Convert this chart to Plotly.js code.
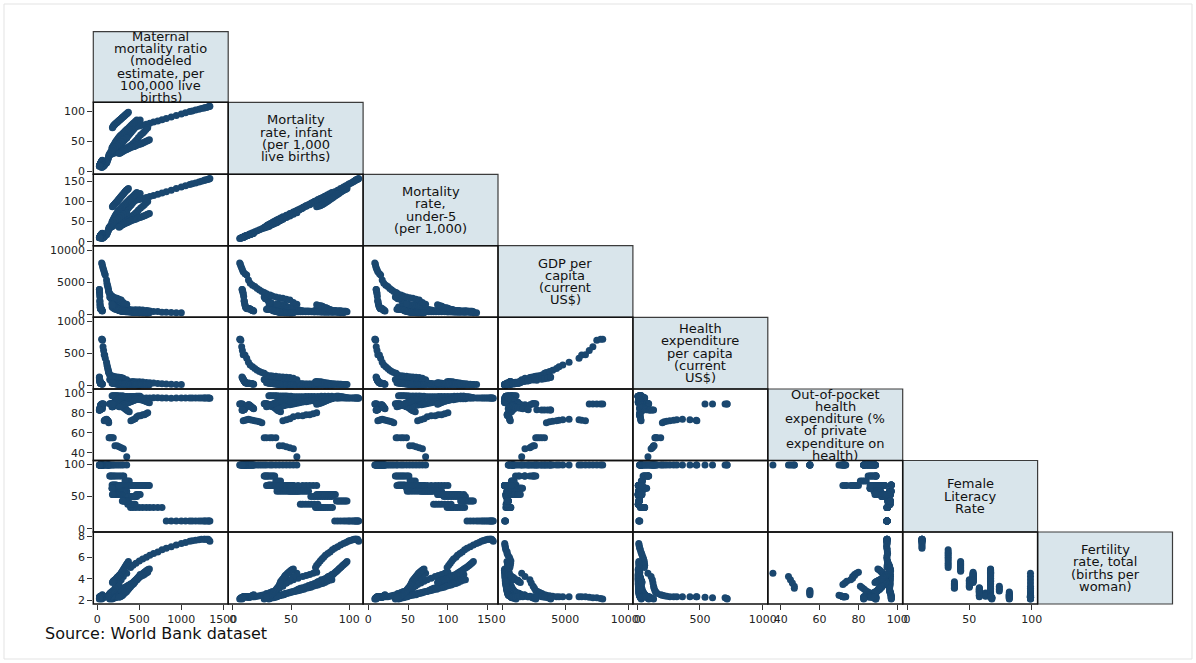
<!DOCTYPE html>
<html>
<head>
<meta charset="utf-8">
<script src="https://cdn.plot.ly/plotly-3.0.1.min.js"></script>
<style>
html,body{margin:0;padding:0;background:#fff;}
#chart{width:1196px;height:663px;}
</style>
</head>
<body>
<div id="chart"></div>
<script>
// ---------------- DATA (8 countries x 26 years, 1990-2015) ----------------
const countries = ["AFG","BGD","BTN","IND","MDV","NPL","PAK","LKA"];
const years = [1990,1991,1992,1993,1994,1995,1996,1997,1998,1999,2000,2001,2002,2003,2004,2005,2006,2007,2008,2009,2010,2011,2012,2013,2014,2015];

const maternal = [
 1340,1330,1320,1300,1280,1270,1240,1210,1170,1130,1100,1050,1000,940,880,821,770,720,670,625,584,540,500,460,425,396,
 510,495,480,465,450,435,420,405,390,375,362,350,338,326,314,302,290,277,264,251,238,226,214,200,188,176,
 600,580,560,540,515,490,470,450,425,400,380,360,345,330,315,300,280,260,240,220,205,190,178,165,155,148,
 470,455,440,425,410,395,380,365,350,335,320,305,290,275,262,250,240,230,220,212,205,198,190,184,178,174,
 350,310,285,260,235,210,190,175,160,148,140,136,133,130,125,120,115,110,95,88,82,75,68,62,57,52,
 620,605,590,575,560,545,530,515,500,485,470,455,440,425,410,395,380,365,350,335,320,307,295,283,271,260,
 370,362,354,346,338,330,322,314,306,298,290,282,274,266,258,250,242,234,226,218,210,203,196,190,185,180,
 60,58,56,54,52,50,48,46,44,42,40,38,37,36,35,34,33,32,31,30,29,28,27,26,25,25
];
const infant = [
 108,107.5,107,106,105.5,105,104,103,101.5,100,99,97,95,92.5,90,87.5,85.5,83.5,81.5,79.5,78,76.5,75,73.5,72,71,
 85,82,79,76,73,70,67.5,65,62.5,60,58,56,54,52,50,48,46,44,42,40,38,36.5,35,33.5,32,31,
 72,69,66,63,60,56,52,49,46,43,41,39,38,37,36,35,34,33,32,31,30,29.5,29,28,27.5,27,
 85,83,81,79,77,75,73,71,69,67,65,63,61,59,57,55,53,51,49,47,45,43.5,42,40.5,39,38,
 55,52,49,46,43,40,37,34,32,29,27,25,23,21,19,17,15,13.5,12,10.5,9,8.3,7.7,7,6.5,6,
 52,51,50,49,48,47,46,45,44.5,44,43,42,41,40.5,40,39,38,37,36,35,34,33,32,31,30,29,
 98,97,96,95,94,93,92,91,90,89,88,87,86,85,84,83,82,81,80,79,78,77,76,75,73.5,72,
 18,17.5,17,16.5,16,15.5,15,14.5,14,13.5,13,12.5,12,11.5,11,10.8,10.5,10.2,10,9.7,9.4,9.1,8.8,8.5,8.2,8
];
const under5 = [
 157,156,155,154,153,152,150,148,146,144,142,139,136,132,128,124,121,118,115,112,110,107,105,103,101,99,
 120,116,112,108,104,100,96,92,88.5,85,82,79,76,73,70,67,64,60,56,52,49,46,44,42,40,38,
 100,96,92,88,84,79,74,70,66,62,59,56,54,52.5,51,49.5,48,46,44.5,43,41.5,40,38.5,37,35.5,34,
 122,119,116,113,110,107,104,101,98,95,92,89,86,82,79,76,73,70,67,64,61,58,55,52,50,48,
 72,68,64,60,56,52,48,44,41,37,35,32,29.5,27,24.5,22,19.5,17.5,15.5,14,12,11,10,9.3,8.8,8.2,
 70,69,67.5,66,64.5,63,62,61,60,59,57.5,56,55,54,53,51.5,50,48.5,47,46,44.5,43,41.5,40,38,36,
 132,130.5,129,127.5,126,124,122,120,118,116,114,112,110,108,106,104,102,100,98,96,94,92.5,91,89.5,88,87,
 21,20.5,20,19.5,19,18.5,18,17.5,17,16.5,16,15.5,15,14.5,14,13.5,13,12.6,12.2,11.8,11.4,11,10.7,10.4,10.1,9.8
];
const gdp = [
 null,null,null,null,null,null,null,null,null,null,null,null,190,210,230,260,280,380,380,450,560,610,680,660,630,600,
 300,290,290,290,300,330,340,350,360,360,370,360,360,390,410,420,430,470,540,600,680,740,760,860,970,1090,
 520,420,390,380,420,500,530,580,590,640,720,760,850,940,1050,1260,1360,1750,1800,1800,2200,2500,2450,2380,2560,2660,
 370,310,320,300,350,380,400,420,415,440,450,460,480,550,630,720,800,1030,1000,1100,1350,1460,1450,1450,1570,1600,
 1540,1800,2190,2300,2450,2550,2650,2800,2970,3150,3350,3500,3750,4000,4300,4500,4800,5300,6090,6300,6600,6900,7190,7500,7800,7970,
 200,190,170,180,190,200,210,220,210,220,230,240,240,250,280,310,340,380,450,460,590,700,700,700,710,740,
 370,410,430,440,430,480,490,470,460,450,530,510,490,560,650,710,800,880,990,960,1020,1230,1260,1270,1320,1430,
 470,510,540,580,650,720,770,830,850,830,870,830,860,960,1060,1240,1420,1630,2000,2060,2740,3130,3350,3610,3820,3840
];
const healthExp = [
 null,null,null,null,null,null,null,null,null,null,null,null,12,14,17,20,24,29,34,39,45,50,55,57,59,57,
 6,6,6,7,7,8,8,9,9,10,10,10,11,11,12,13,14,15,17,19,22,24,26,28,31,32,
 20,18,18,17,19,22,24,26,28,30,32,35,38,42,46,52,55,62,65,70,78,85,88,86,88,91,
 14,13,13,14,16,17,18,19,20,21,20,21,22,24,27,30,32,38,40,42,50,56,58,60,69,75,
 85,110,120,125,130,134,140,145,150,160,187,200,215,235,260,290,315,360,420,470,475,540,600,700,716,716,
 8,8,8,9,9,10,10,11,11,12,12,13,13,14,15,17,18,20,24,26,32,35,36,37,38,40,
 12,13,14,14,14,15,16,16,15,15,16,15,15,16,18,20,22,24,26,25,27,30,33,34,36,38,
 18,20,21,23,25,28,29,31,32,31,32,30,31,35,40,45,51,58,65,70,80,95,100,110,120,130
];
const outOfPocket = [
 94.5,94.6,94.7,94.8,94.7,94.6,94.7,94.8,94.7,94.6,94.7,94.8,94.7,94.6,94.5,94.7,94.8,94.9,95,94.8,94.6,94.7,94.9,95,94.8,94.7,
 96.5,96.5,96.4,96.4,96.3,96.3,96.2,96.2,96.1,96,96,96,96,96,96.5,96.5,96.6,96.7,96.8,96.8,96.9,96.9,96.9,96.9,96.9,96.9,
 80,79,78,78,77,77,76,74,73,72,81,82,83,84,85,86,86,87,87,88,88,89,89,89,89,89,
 94,94,94,94,93.5,93,93,92.5,92,92,91.5,91,91,90.5,90,89.5,89,88.5,88,88,87.5,87,86.5,86,86,86,
 36,44,45,46,47,47,55,55,55,55,55,70,71,71.5,72,72.5,73,73.5,73,72.5,72,88.7,88.7,88.7,88.7,88.7,
 90,90.5,91,91.5,92,92.5,93,93,93.5,93.5,93.5,93,92.5,92,91.5,91,90.5,90,89.5,89,88.5,88,87.5,87,86.5,86,
 95,95,95.5,95.5,96,96,96,96.5,96.5,96.5,96,95.5,95,94.5,94,93.5,93,92.5,92,91.5,91,90.5,90,89.5,89,88.5,
 84,84.5,85,85.5,86,86.5,87,87.5,88,88,87.5,87,86.5,86,85.5,85,84.5,84,83.5,83,83,82.7,82.7,82.7,82.7,82.7
];
const literacy = [
 12,12,12,12,12,12,12,12,12,12,12,12,12,12,12,12,33,33,33,33,33,33,33,33,33,33,
 53,53,53,53,38,38,38,38,38,38,38,58,58,58,58,58,58,58,58,58,58,68,68,68,68,68,
 67,67,67,67,67,67,67,67,67,67,74,74,74,74,82,82,82,82,82,82,82,82,82,82,82,82,
 50,50,50,50,50,50,50,50,50,50,58,58,58,58,58,58,58,58,58,63,63,63,63,63,63,63,
 99,99,99,99,99,99,99,99,99,99,99,99,99,99,99,99,99,99,99,99,99,99,99,99,99,99,
 67,67,67,67,67,67,67,67,67,67,67,67,67,67,67,67,67,67,67,67,67,67,67,67,67,67,
 43,43,43,43,43,43,43,43,43,43,53,53,53,53,53,53,53,53,53,53,53,53,53,53,53,53,
 99,99,99,99,99,99,99,99,99,99,99,99,99,99,99,99,99,99,99,99,99,99,99,99,99,99
];
const fertility = [
 7.5,7.6,7.7,7.7,7.7,7.7,7.7,7.65,7.6,7.55,7.5,7.4,7.3,7.15,7.0,6.85,6.7,6.5,6.35,6.2,6.0,5.85,5.65,5.45,5.25,5.05,
 4.4,4.2,4.0,3.9,3.7,3.55,3.45,3.35,3.25,3.15,3.1,3.0,2.9,2.8,2.75,2.65,2.6,2.5,2.45,2.4,2.3,2.25,2.2,2.2,2.15,2.1,
 4.6,4.5,4.4,4.3,4.2,4.05,3.9,3.75,3.6,3.45,3.3,3.15,3.0,2.85,2.75,2.65,2.55,2.5,2.45,2.4,2.35,2.3,2.25,2.2,2.15,2.1,
 3.9,3.85,3.75,3.65,3.55,3.5,3.4,3.35,3.3,3.2,3.15,3.1,3.0,2.95,2.9,2.85,2.8,2.75,2.7,2.65,2.6,2.55,2.5,2.45,2.4,2.35,
 4.5,4.2,3.9,3.6,3.3,3.1,2.9,2.8,2.7,2.6,2.5,2.45,2.4,2.35,2.3,2.3,2.3,2.3,2.3,2.3,2.3,2.25,2.2,2.2,2.15,2.1,
 4.9,4.85,4.8,4.7,4.6,4.5,4.4,4.3,4.2,4.1,4.0,3.85,3.7,3.55,3.4,3.25,3.1,2.95,2.8,2.7,2.6,2.5,2.4,2.35,2.3,2.25,
 5.6,5.5,5.4,5.3,5.2,5.1,5.0,4.9,4.8,4.7,4.6,4.5,4.4,4.35,4.3,4.2,4.15,4.1,4.0,3.95,3.9,3.85,3.8,3.75,3.7,3.65,
 2.5,2.45,2.4,2.4,2.35,2.3,2.3,2.25,2.25,2.25,2.25,2.3,2.3,2.3,2.3,2.3,2.3,2.3,2.3,2.3,2.3,2.3,2.25,2.2,2.15,2.1
];

const varLabels = [
 ["Maternal","mortality ratio","(modeled","estimate, per","100,000 live","births)"],
 ["Mortality","rate, infant","(per 1,000","live births)"],
 ["Mortality","rate,","under-5","(per 1,000)"],
 ["GDP per","capita","(current","US$)"],
 ["Health","expenditure","per capita","(current","US$)"],
 ["Out-of-pocket","health","expenditure (%","of private","expenditure on","health)"],
 ["Female","Literacy","Rate"],
 ["Fertility","rate, total","(births per","woman)"]
];
const tickVals = [
 [0,500,1000,1500],[0,50,100],[0,50,100,150],[0,5000,10000],[0,500,1000],[40,60,80,100],[0,50,100],[2,4,6,8]
];
const tickText = [
 ["0","500","1000","1500"],["0","50","100"],["0","50","100","150"],["0","5000","10000"],["0","500","1000"],["40","60","80","100"],["0","50","100"],["2","4","6","8"]
];
const sourceNote = "Source: World Bank dataset";

// ---------------- LAYOUT ----------------
const W = 1196, H = 663;
const colEdges = [93.3,228.2,363.1,498.0,632.9,767.8,902.7,1037.6,1172.5];
const rowEdges = [31.7,102.3,174.3,245.7,317.3,389.0,460.5,532.0,604.0];
const xRanges = [[-47.6,1558],[-3.86,111.8],[-6.5,162.9],[-341,10365],[-35,1040.7],[33.36,102.78],[-3.45,104.7]];
const yRanges = [null,[-5.5,114.5],[-9.9,167.4],[-516,10672],[-57.5,1057.5],[32.2,103.7],[-5.1,105.9],[1.625,8.375]];

const vars = [maternal, infant, under5, gdp, healthExp, outOfPocket, literacy, fertility];
const FONT = "DejaVu Sans, Arial, sans-serif";
const MARK = "#1a476f";

const xId = c => c === 0 ? "x" : "x" + (c + 1);
const yId = r => r === 1 ? "y" : "y" + r;

const traces = [];
for (let r = 1; r < 8; r++) {
  for (let c = 0; c < r; c++) {
    traces.push({
      type: "scatter", mode: "markers",
      x: vars[c], y: vars[r],
      xaxis: xId(c), yaxis: yId(r),
      marker: {color: MARK, size: 7, line: {width: 0}},
      hoverinfo: "skip", showlegend: false
    });
  }
}

const layout = {
  width: W, height: H,
  margin: {l: 0, r: 0, t: 0, b: 0},
  paper_bgcolor: "#ffffff", plot_bgcolor: "rgba(0,0,0,0)",
  showlegend: false,
  font: {family: FONT, size: 11, color: "#222"},
  shapes: [], annotations: []
};

const axisCommon = {
  showgrid: false, zeroline: false, showline: false,
  ticks: "outside", ticklen: 5, tickwidth: 1, tickcolor: "#333",
  tickmode: "array", tickfont: {family: FONT, size: 11, color: "#222"},
  fixedrange: true
};

for (let c = 0; c < 7; c++) {
  layout[c === 0 ? "xaxis" : "xaxis" + (c + 1)] = Object.assign({}, axisCommon, {
    domain: [colEdges[c] / W, colEdges[c + 1] / W],
    range: xRanges[c], anchor: "y7",
    tickvals: tickVals[c], ticktext: tickText[c]
  });
}
for (let r = 1; r < 8; r++) {
  layout[r === 1 ? "yaxis" : "yaxis" + r] = Object.assign({}, axisCommon, {
    domain: [1 - rowEdges[r + 1] / H, 1 - rowEdges[r] / H],
    range: yRanges[r], anchor: "x",
    tickvals: tickVals[r], ticktext: tickText[r]
  });
}

// outer frame
layout.shapes.push({type: "rect", xref: "paper", yref: "paper",
  x0: 4 / W, x1: 1192 / W, y0: 1 - 659 / H, y1: 1 - 4 / H,
  line: {color: "#e3e3e3", width: 1}, fillcolor: "rgba(0,0,0,0)", layer: "below"});

// diagonal label boxes
for (let k = 0; k < 8; k++) {
  layout.shapes.push({type: "rect", xref: "paper", yref: "paper",
    x0: colEdges[k] / W, x1: colEdges[k + 1] / W,
    y0: 1 - rowEdges[k + 1] / H, y1: 1 - rowEdges[k] / H,
    line: {color: "#3c3c3c", width: 1.2}, fillcolor: "#d9e5eb", layer: "above"});
  const lines = varLabels[k];
  const cx = (colEdges[k] + colEdges[k + 1]) / 2;
  const cy = (rowEdges[k] + rowEdges[k + 1]) / 2;
  const step = 12.3;
  lines.forEach((t, i) => {
    const yy = cy + (i - (lines.length - 1) / 2) * step;
    layout.annotations.push({xref: "paper", yref: "paper",
      x: cx / W, y: 1 - yy / H, xanchor: "center", yanchor: "middle",
      text: t, showarrow: false, font: {family: FONT, size: 13, color: "#111"}});
  });
}
// data cell borders
for (let r = 1; r < 8; r++) {
  for (let c = 0; c < r; c++) {
    layout.shapes.push({type: "rect", xref: "paper", yref: "paper",
      x0: colEdges[c] / W, x1: colEdges[c + 1] / W,
      y0: 1 - rowEdges[r + 1] / H, y1: 1 - rowEdges[r] / H,
      line: {color: "#111", width: 1.5}, fillcolor: "rgba(0,0,0,0)", layer: "above"});
  }
}

layout.annotations.push({xref: "paper", yref: "paper", x: 43 / W, y: 1 - 633.5 / H,
  xanchor: "left", yanchor: "middle", text: sourceNote, showarrow: false,
  font: {family: FONT, size: 16, color: "#111"}});

Plotly.newPlot("chart", traces, layout, {staticPlot: true, displayModeBar: false});
</script>
</body>
</html>
